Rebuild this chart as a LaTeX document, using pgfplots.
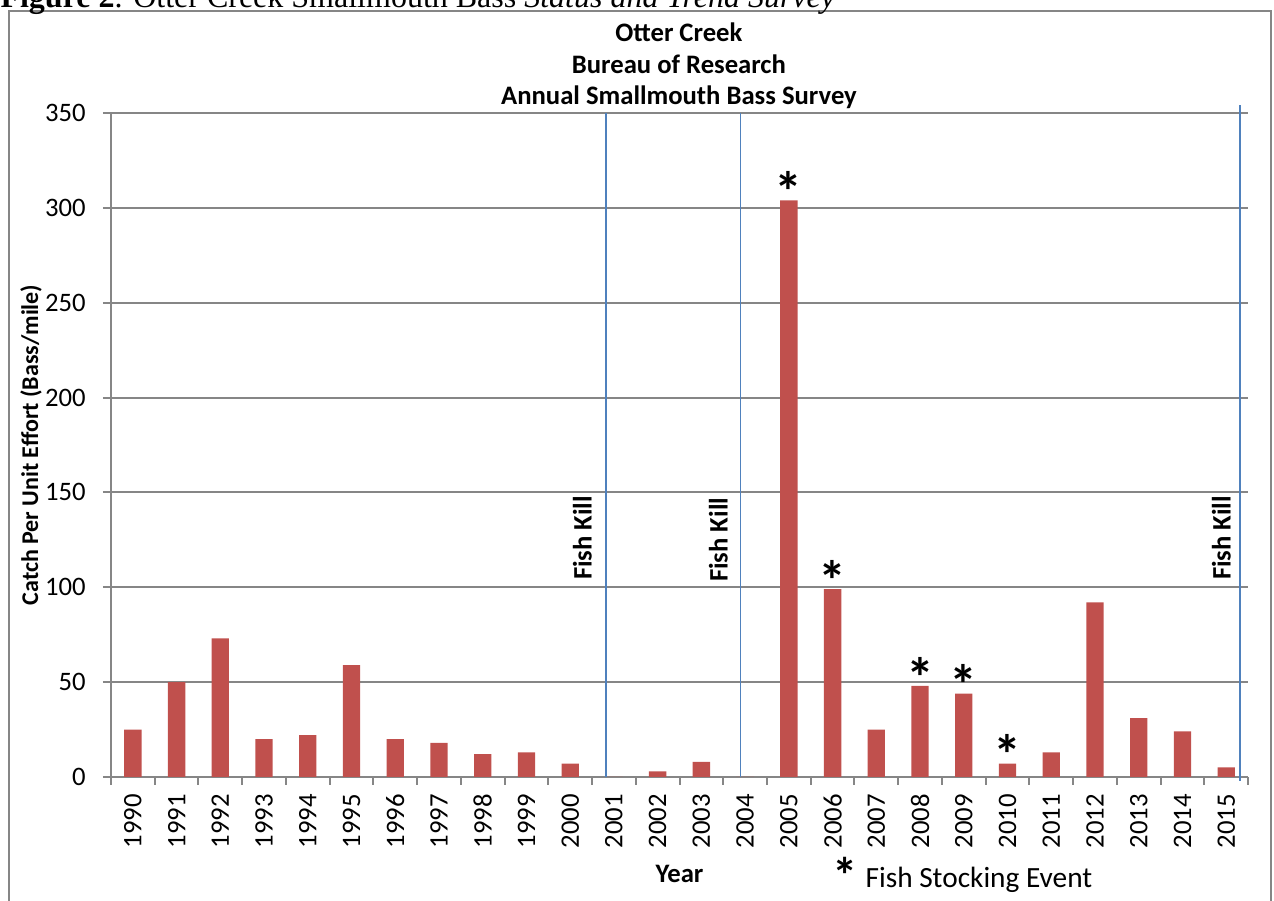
\documentclass[border=0pt]{standalone}
\usepackage{fontspec}
\setmainfont{Carlito}
\newfontfamily\timesfont{Liberation Serif}
\usepackage{pgfplots}
\pgfplotsset{compat=1.18}
\definecolor{barred}{HTML}{C0504D}
\definecolor{killblue}{HTML}{4F81BD}
\definecolor{gridgray}{HTML}{868686}
\newcommand{\ticksize}{\fontsize{10}{12}\selectfont}

\begin{document}
\begin{tikzpicture}
\useasboundingbox (0,0) rectangle (477.75pt,337.875pt);
% outer frame and clipped caption
\draw[gridgray, line width=0.75pt] (3.375pt,-5pt) rectangle (476.8pt,333.75pt);
\node[anchor=base west, inner sep=0, font=\timesfont\fontsize{12}{14}\selectfont] at (0pt,334.9pt)
  {\textbf{Figure 2}. Otter Creek Smallmouth Bass \textit{Status and Trend Survey}};

\begin{axis}[
    at={(41.625pt,46.5pt)}, anchor=south west,
    scale only axis, width=426.4pt, height=249pt,
    xmin=-0.5, xmax=25.5, ymin=0, ymax=350,
    ytick={0,50,...,350},
    xtick={-0.5,0.5,...,25.5},
    x tick label as interval,
    xticklabels={1990,1991,1992,1993,1994,1995,1996,1997,1998,1999,2000,2001,2002,
                 2003,2004,2005,2006,2007,2008,2009,2010,2011,2012,2013,2014,2015},
    axis x line*=bottom, axis y line*=left,
    axis line style={-, gridgray, line width=0.75pt},
    tick align=outside, major tick length=3pt,
    tick style={gridgray, line width=0.75pt},
    ymajorgrids, grid style={gridgray, line width=0.75pt},
    /pgf/number format/assume math mode=true,
    yticklabel style={font=\ticksize, xshift=-3pt},
    xticklabel style={rotate=90, anchor=east, font=\ticksize},
    xlabel={Year},
    xlabel style={at={(axis description cs:0.5,0)}, anchor=base, yshift=-39.4pt,
                  font=\bfseries\ticksize},
    ylabel={Catch Per Unit Effort (Bass/mile)},
    ylabel style={at={(axis description cs:0,0.5)}, anchor=center, yshift=30pt,
                  font=\bfseries\fontsize{9}{11}\selectfont},
    clip=false,
]
\addplot[ybar, bar width=6.5pt, fill=barred, draw=none] coordinates {
    (0,25) (1,50) (2,73) (3,20) (4,22) (5,59) (6,20) (7,18) (8,12) (9,13)
    (10,7) (11,0) (12,3) (13,8) (14,0) (15,304) (16,99) (17,25) (18,48) (19,44)
    (20,7) (21,13) (22,92) (23,31) (24,24) (25,5)};

% fish kill lines
\addplot[killblue, line width=0.6pt] coordinates {(10.82,0) (10.82,350)};
\addplot[killblue, line width=0.6pt] coordinates {(13.89,0) (13.89,350)};
\addplot[killblue, line width=0.6pt] coordinates {(25.32,-2) (25.32,354)};

% stocking events
\addplot[draw=none, no markers, nodes near coords={*},
    every node near coord/.append style={font=\bfseries\fontsize{21}{21}\selectfont,
        anchor=base, inner sep=0pt, yshift=-4.2pt}]
    coordinates {(15,304) (16,99) (18,48) (19,44) (20,7)};

\node[rotate=90, inner sep=0, font=\bfseries\ticksize] at (axis cs:10.28,126) {Fish Kill};
\node[rotate=90, inner sep=0, font=\bfseries\ticksize] at (axis cs:13.39,125) {Fish Kill};
\node[rotate=90, inner sep=0, font=\bfseries\ticksize] at (axis cs:24.89,126) {Fish Kill};
\end{axis}

% chart title
\node[anchor=base, inner sep=0, font=\bfseries\fontsize{10}{12}\selectfont] at (254.6pt,322.2pt) {Otter Creek};
\node[anchor=base, inner sep=0, font=\bfseries\fontsize{10}{12}\selectfont] at (254.6pt,310.35pt) {Bureau of Research};
\node[anchor=base, inner sep=0, font=\bfseries\fontsize{10}{12}\selectfont] at (254.6pt,298.5pt) {Annual Smallmouth Bass Survey};

% legend note
\node[anchor=base west, inner sep=0, font=\bfseries\fontsize{19}{19}\selectfont] at (312pt,2.9pt) {*};
\node[anchor=base west, inner sep=0, font=\fontsize{11}{13}\selectfont] at (324.4pt,4.875pt) {Fish Stocking Event};
\end{tikzpicture}
\end{document}
